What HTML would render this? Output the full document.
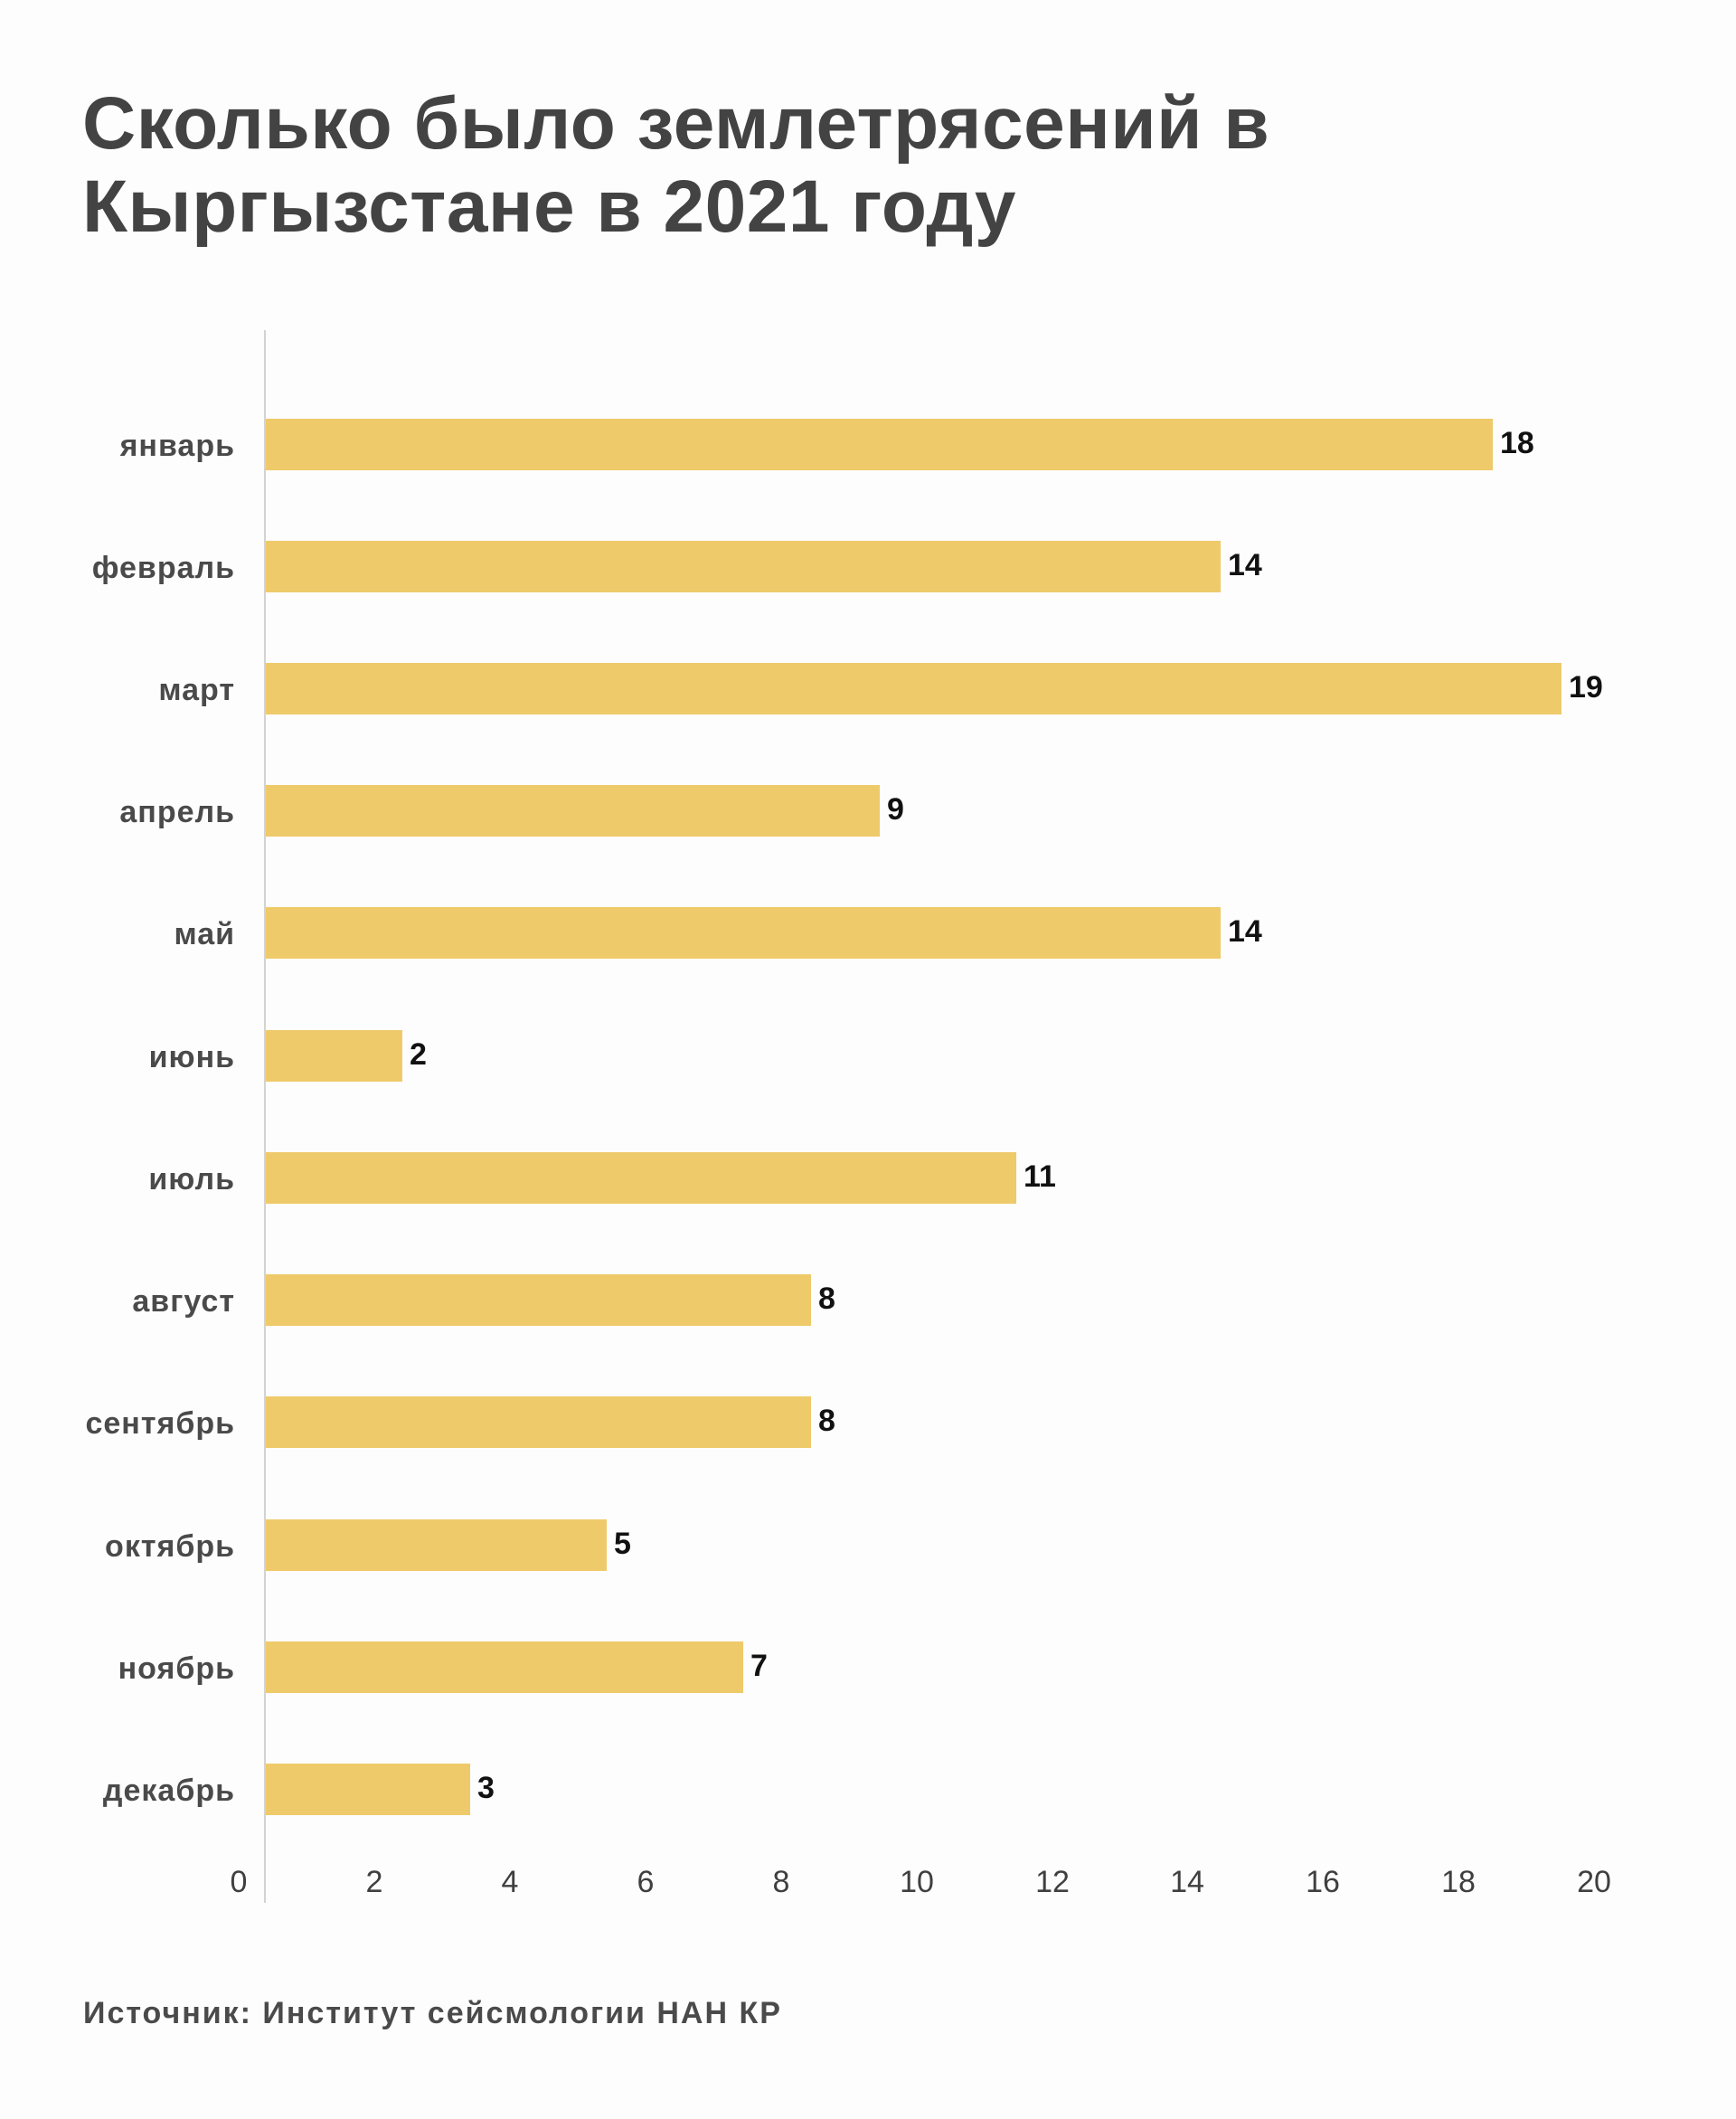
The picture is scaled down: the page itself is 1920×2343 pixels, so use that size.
<!DOCTYPE html>
<html><head><meta charset="utf-8"><style>
body{margin:0;background:#fefdfd;}
svg{display:block;font-family:"Liberation Sans",sans-serif;}
</style></head><body>
<svg width="1920" height="2343" xmlns="http://www.w3.org/2000/svg">
<rect width="1920" height="2343" fill="#fefdfd"/>
<g font-weight="bold" fill="#434343" font-size="82" letter-spacing="0.5">
<text x="91" y="164">Сколько было землетрясений в</text>
<text x="91" y="256">Кыргызстане в 2021 году</text>
</g>
<line x1="293" y1="365" x2="293" y2="2104" stroke="#d3d3d3" stroke-width="2"/>
<g fill="#eeca6a">
<rect x="294" y="463" width="1357" height="57"/>
<rect x="294" y="598" width="1056" height="57"/>
<rect x="294" y="733" width="1433" height="57"/>
<rect x="294" y="868" width="679" height="57"/>
<rect x="294" y="1003" width="1056" height="57"/>
<rect x="294" y="1139" width="151" height="57"/>
<rect x="294" y="1274" width="830" height="57"/>
<rect x="294" y="1409" width="603" height="57"/>
<rect x="294" y="1544" width="603" height="57"/>
<rect x="294" y="1680" width="377" height="57"/>
<rect x="294" y="1815" width="528" height="57"/>
<rect x="294" y="1950" width="226" height="57"/>
</g>
<g font-size="34" font-weight="bold" fill="#4a4a4a" text-anchor="end" letter-spacing="1">
<text x="260" y="504">январь</text>
<text x="260" y="639">февраль</text>
<text x="260" y="774">март</text>
<text x="260" y="909">апрель</text>
<text x="260" y="1044">май</text>
<text x="260" y="1180">июнь</text>
<text x="260" y="1315">июль</text>
<text x="260" y="1450">август</text>
<text x="260" y="1585">сентябрь</text>
<text x="260" y="1721">октябрь</text>
<text x="260" y="1856">ноябрь</text>
<text x="260" y="1991">декабрь</text>
</g>
<g font-size="34" font-weight="bold" fill="#111">
<text x="1659" y="501">18</text>
<text x="1358" y="636">14</text>
<text x="1735" y="771">19</text>
<text x="981" y="906">9</text>
<text x="1358" y="1041">14</text>
<text x="453" y="1177">2</text>
<text x="1132" y="1312">11</text>
<text x="905" y="1447">8</text>
<text x="905" y="1582">8</text>
<text x="679" y="1718">5</text>
<text x="830" y="1853">7</text>
<text x="528" y="1988">3</text>
</g>
<g font-size="34" fill="#3f3f3f" text-anchor="middle">
<text x="264" y="2092">0</text>
<text x="414" y="2092">2</text>
<text x="564" y="2092">4</text>
<text x="714" y="2092">6</text>
<text x="864" y="2092">8</text>
<text x="1014" y="2092">10</text>
<text x="1164" y="2092">12</text>
<text x="1313" y="2092">14</text>
<text x="1463" y="2092">16</text>
<text x="1613" y="2092">18</text>
<text x="1763" y="2092">20</text>
</g>
<text x="92" y="2237" font-size="34" font-weight="bold" fill="#4a4a4a" letter-spacing="2">Источник: Институт сейсмологии НАН КР</text>
</svg>
</body></html>
